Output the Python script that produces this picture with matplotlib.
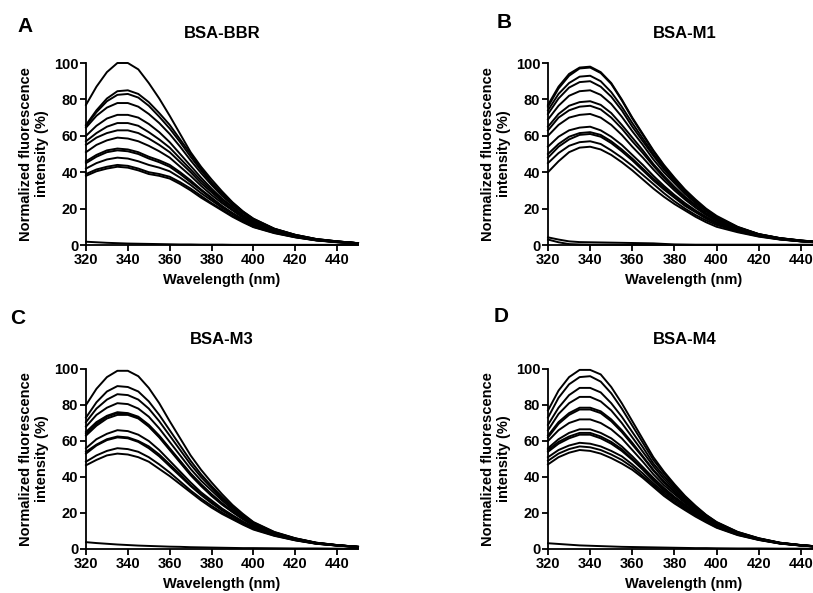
import matplotlib
matplotlib.use("Agg")
import matplotlib.pyplot as plt

plt.rcParams["font.family"] = ["Liberation Sans", "DejaVu Sans"]
plt.rcParams["font.weight"] = "bold"

# Emission wavelengths (nm)
wavelength = [320, 325, 330, 335, 340, 345, 350, 355, 360, 365, 370, 375,
              380, 385, 390, 395, 400, 410, 420, 430, 440, 450]

# ---- BSA-BBR: titration spectra (normalized %), plus blank ----
bbr_spectra = [
    [77, 87, 95, 100, 100, 96.5, 89, 80.5, 71, 61, 51, 43, 36, 29.5, 23.5, 18.5, 14.5, 9, 5.6, 3.3, 2.0, 1.0],
    [66, 74, 80.5, 84.5, 85, 83, 78.5, 72.5, 66, 58, 50, 42, 34.5, 28.5, 23.2, 18.3, 14.3, 8.9, 5.6, 3.3, 2.0, 1.0],
    [65.5, 73, 79, 82.5, 83, 81, 76.5, 70.5, 64, 56.5, 48.5, 41, 34, 28, 23, 18, 14, 8.8, 5.5, 3.2, 2.0, 1.0],
    [64.5, 71, 75.5, 78, 78, 76, 72, 67, 61, 54, 46.5, 39.5, 33, 27, 22, 17.5, 13.5, 8.5, 5.3, 3.1, 1.9, 1.0],
    [60, 65.5, 69.5, 71.5, 71.5, 70, 66.5, 62, 56.5, 50, 43.5, 37, 31, 25.5, 21, 16.5, 13, 8.2, 5.2, 3.0, 1.9, 1.0],
    [57, 61.5, 65, 67, 67, 65.5, 62, 58, 53.5, 47.5, 41.5, 35.5, 30, 25, 20.5, 16, 12.5, 8, 5.0, 3.0, 1.8, 1.0],
    [55, 59, 61.5, 63, 63, 61.5, 58.5, 55, 51, 45.5, 40, 34, 29, 24, 19.5, 15.5, 12, 7.8, 4.9, 2.9, 1.8, 1.0],
    [51, 55, 57.5, 59, 58.5, 57, 54.5, 51.5, 48, 43, 38, 32.5, 27.5, 23, 19, 15, 11.7, 7.5, 4.8, 2.8, 1.7, 0.9],
    [46, 49.5, 52, 53, 52.5, 51, 48.5, 46.5, 44, 40, 35.5, 30.5, 26, 21.5, 17.5, 14, 11, 7.2, 4.6, 2.7, 1.7, 0.9],
    [45, 48.5, 51, 52, 51.5, 50, 47.5, 45.5, 43, 39, 34.5, 30, 25.5, 21, 17.5, 14, 11, 7.1, 4.5, 2.7, 1.6, 0.9],
    [42, 45, 47, 48, 47.5, 46, 44, 42.5, 40.5, 37, 33, 28.5, 24.5, 20.5, 17, 13.5, 10.5, 6.9, 4.4, 2.6, 1.6, 0.9],
    [39, 41.5, 43, 44, 43.5, 42, 40, 39, 37.5, 34.5, 31, 27, 23, 19.5, 16, 13, 10, 6.7, 4.3, 2.6, 1.6, 0.9],
    [38, 40.5, 42, 43, 42.5, 41, 39, 38, 36.5, 33.5, 30, 26, 22.5, 19, 15.5, 12.5, 9.8, 6.5, 4.2, 2.5, 1.5, 0.8],
]
bbr_blanks = [
    [1.8, 1.5, 1.2, 1.0, 0.8, 0.7, 0.6, 0.5, 0.4, 0.3, 0.3, 0.2, 0.2, 0.2, 0.1, 0.1, 0.1, 0.1, 0.1, 0.1, 0.1, 0.1],
]

# ---- BSA-M1 ----
m1_spectra = [
    [77, 87, 94, 97.5, 98, 95, 89, 80, 70, 61, 52, 44, 37, 30.5, 25, 20, 16, 10, 6, 3.8, 2.5, 1.5],
    [76, 86, 93, 97, 97.5, 94.5, 88.5, 79.5, 69.5, 60.5, 51.5, 43.5, 36.5, 30, 24.5, 19.5, 15.5, 9.8, 6, 3.8, 2.5, 1.5],
    [74, 83, 89, 92.5, 93, 90, 84, 76, 67, 58.5, 50, 42.5, 35.5, 29.5, 24, 19, 15, 9.6, 5.9, 3.7, 2.4, 1.5],
    [72, 80.5, 86.5, 89.5, 90, 87, 81.5, 74, 65, 57, 49, 41.5, 35, 29, 23.5, 18.8, 14.8, 9.5, 5.8, 3.7, 2.4, 1.4],
    [69, 76.5, 82, 84.5, 85, 82.5, 77.5, 70.5, 62.5, 55, 47, 40, 34, 28, 23, 18.5, 14.5, 9.3, 5.7, 3.6, 2.3, 1.4],
    [65, 72, 76.5, 78.5, 79, 77, 72.5, 66, 59, 52, 44.5, 38, 32, 26.5, 22, 17.5, 14, 9, 5.6, 3.5, 2.3, 1.4],
    [63, 70, 74, 76, 76.5, 74.5, 70, 64, 57, 50.5, 43.5, 37, 31, 26, 21.5, 17, 13.7, 8.8, 5.5, 3.5, 2.2, 1.4],
    [60, 66, 70, 71.5, 72, 70, 66, 60.5, 54, 48, 41.5, 35.5, 30, 25, 20.5, 16.5, 13.3, 8.6, 5.4, 3.4, 2.2, 1.3],
    [54, 59.5, 63, 64.5, 65, 63, 59.5, 55, 49.5, 44, 38, 32.5, 27.5, 23, 19, 15.5, 12.5, 8.2, 5.2, 3.3, 2.1, 1.3],
    [50, 55.5, 59.5, 61.5, 62, 60.5, 57, 52.5, 47.5, 42, 36.5, 31.5, 26.5, 22, 18.5, 15, 12, 8, 5.1, 3.2, 2.1, 1.3],
    [48, 54, 58, 60.5, 61, 59.5, 56, 51.5, 46.5, 41, 35.5, 30.5, 26, 21.5, 18, 14.5, 11.7, 7.8, 5, 3.2, 2.0, 1.3],
    [45, 50.5, 54.5, 56.5, 57, 55.5, 52, 48, 43.5, 38.5, 33.5, 28.5, 24, 20, 16.5, 13.5, 11, 7.4, 4.8, 3.1, 2.0, 1.2],
    [40, 46, 51, 53.5, 54, 52.5, 49.5, 45.5, 41, 36, 31, 26.5, 22.5, 19, 15.5, 12.5, 10, 7, 4.6, 3.0, 2.0, 1.2],
]
m1_blanks = [
    [4.2, 3.0, 2.0, 1.6, 1.5, 1.4, 1.3, 1.2, 1.1, 1.0, 0.9, 0.6, 0.3, 0.2, 0.1, 0.1, 0.1, 0.1, 0.1, 0.1, 0.1, 0.1],
    [3.0, 1.5, 0.5, 0.3, 0.2, 0.2, 0.2, 0.1, 0.1, 0.1, 0.1, 0.1, 0.1, 0.1, 0.1, 0.1, 0.1, 0.1, 0.1, 0.1, 0.1, 0.1],
]

# ---- BSA-M3 ----
m3_spectra = [
    [80, 89, 95.5, 99, 99, 96, 89.5, 81, 71, 61.5, 52, 44, 37, 30.5, 24.5, 19.5, 15, 9.5, 6, 3.5, 2.2, 1.2],
    [73, 81.5, 87.5, 90.5, 90, 87.5, 82, 74.5, 66, 57.5, 49, 41.5, 35, 29, 23.5, 19, 14.7, 9.3, 5.9, 3.5, 2.2, 1.2],
    [70.5, 78, 83, 86, 85.5, 83, 78, 71, 63, 55, 47, 40, 34, 28, 23, 18.5, 14.3, 9.1, 5.8, 3.4, 2.1, 1.2],
    [68, 74.5, 78.5, 81, 80.5, 78, 73.5, 67, 59.5, 52, 44.5, 38, 32.5, 27, 22, 17.8, 14, 8.9, 5.7, 3.4, 2.1, 1.2],
    [65, 70.5, 74, 76, 75.5, 73.5, 69, 63, 56, 49, 42, 36, 30.5, 25.5, 21, 17, 13.5, 8.7, 5.6, 3.3, 2.1, 1.2],
    [64, 69.5, 73.5, 75.5, 75, 73, 68.5, 62.5, 55.5, 48.5, 41.5, 35.5, 30, 25, 20.8, 16.8, 13.3, 8.6, 5.5, 3.3, 2.1, 1.2],
    [63, 68.5, 72.5, 74.5, 74.5, 72.5, 68, 62, 55, 48, 41, 35, 29.5, 24.7, 20.5, 16.5, 13.1, 8.5, 5.4, 3.2, 2.0, 1.2],
    [56, 61, 64, 66, 65.5, 63.5, 60, 55, 49, 43, 37, 31.5, 27, 22.5, 18.8, 15.3, 12.3, 8.1, 5.2, 3.1, 2.0, 1.1],
    [54, 58, 61, 62.5, 62, 60, 57, 52.5, 47, 41.5, 35.5, 30.5, 26, 21.8, 18.2, 14.8, 12, 7.9, 5.1, 3.1, 2.0, 1.1],
    [53, 57.5, 60.5, 62, 61.5, 59.5, 56, 51.5, 46, 40.5, 35, 30, 25.5, 21.5, 18, 14.6, 11.8, 7.8, 5.0, 3.0, 1.9, 1.1],
    [48.5, 52, 54.5, 56, 55.5, 54, 51, 47, 42.5, 37.5, 32.5, 28, 24, 20.3, 17, 14, 11.2, 7.5, 4.9, 3.0, 1.9, 1.1],
    [46.5, 49.5, 52, 53, 52.5, 51, 48.5, 44.5, 40.5, 36, 31.5, 27, 23, 19.5, 16.5, 13.5, 10.8, 7.3, 4.8, 2.9, 1.9, 1.1],
]
m3_blanks = [
    [3.8, 3.3, 2.9, 2.5, 2.2, 1.9, 1.7, 1.5, 1.3, 1.2, 1.0, 0.9, 0.8, 0.7, 0.6, 0.5, 0.5, 0.4, 0.3, 0.3, 0.2, 0.2],
]

# ---- BSA-M4 ----
m4_spectra = [
    [77, 88, 95.5, 99.5, 99.5, 97, 90, 81, 71, 61, 51, 43, 36, 29.5, 24, 19, 15, 9.5, 6, 3.5, 2.2, 1.2],
    [73, 84, 91.5, 95.5, 96, 93, 86.5, 78, 68.5, 59, 49.5, 42, 35, 29, 23.5, 18.8, 14.8, 9.4, 5.9, 3.5, 2.2, 1.2],
    [69, 78.5, 85.5, 89.5, 89.5, 87, 81, 73.5, 65, 56.5, 47.5, 40.5, 34, 28.3, 23, 18.5, 14.5, 9.2, 5.8, 3.4, 2.1, 1.2],
    [66, 75, 81, 84.5, 84.5, 82, 77, 70, 62, 54, 46, 39, 33, 27.5, 22.5, 18, 14.2, 9.0, 5.7, 3.4, 2.1, 1.2],
    [63, 70.5, 75.5, 78.5, 78.5, 76.5, 72, 66, 59, 51.5, 44, 37.5, 32, 26.8, 22, 17.7, 14, 8.9, 5.6, 3.3, 2.1, 1.2],
    [62, 69.5, 74.5, 77.5, 77.5, 75.5, 71, 65, 58, 51, 43.5, 37, 31.5, 26.4, 21.7, 17.5, 13.8, 8.8, 5.6, 3.3, 2.1, 1.2],
    [60, 66, 70, 72, 72, 70, 66.5, 61.5, 55, 48.5, 41.5, 35.5, 30.5, 25.6, 21.2, 17.2, 13.5, 8.7, 5.5, 3.3, 2.0, 1.1],
    [56, 61, 64.5, 66.5, 66.5, 64.5, 61.5, 57, 51.5, 45.5, 39.5, 34, 29, 24.6, 20.5, 16.7, 13.2, 8.5, 5.4, 3.2, 2.0, 1.1],
    [55, 59.5, 62.5, 64.5, 64.5, 62.5, 59.5, 55.5, 50, 44.5, 38.5, 33, 28.5, 24.2, 20.2, 16.5, 13, 8.4, 5.4, 3.2, 2.0, 1.1],
    [54, 58.5, 61.5, 63.5, 63.5, 61.5, 58.5, 54.5, 49.5, 44, 38, 32.5, 28, 23.8, 19.8, 16.2, 12.8, 8.3, 5.3, 3.2, 2.0, 1.1],
    [51, 55, 57.5, 59, 58.5, 57, 54.5, 51.5, 47, 42, 36.5, 31.5, 27, 23, 19.2, 15.7, 12.5, 8.1, 5.2, 3.1, 2.0, 1.1],
    [49, 53, 55.5, 57, 56.5, 55, 52.5, 49.5, 45.5, 40.5, 35.5, 30.5, 26, 22.2, 18.6, 15.2, 12.1, 7.9, 5.1, 3.1, 1.9, 1.1],
    [47, 51, 53.5, 55, 54.5, 53, 50.5, 47.5, 44, 39.5, 34.5, 29.5, 25.3, 21.6, 18, 14.8, 11.8, 7.7, 5.0, 3.0, 1.9, 1.1],
]
m4_blanks = [
    [3.2, 2.8, 2.4, 2.0, 1.8, 1.6, 1.4, 1.2, 1.1, 1.0, 0.9, 0.8, 0.7, 0.6, 0.5, 0.5, 0.4, 0.3, 0.3, 0.2, 0.2, 0.2],
]

panel_letters = ["A", "B", "C", "D"]
panel_titles = ["BSA-BBR", "BSA-M1", "BSA-M3", "BSA-M4"]
panel_spectra = [bbr_spectra, m1_spectra, m3_spectra, m4_spectra]
panel_blanks = [bbr_blanks, m1_blanks, m3_blanks, m4_blanks]

x_ticks = [320, 340, 360, 380, 400, 420, 440]
y_ticks = [0, 20, 40, 60, 80, 100]

W, H = 813, 593
fig = plt.figure(figsize=(W / 100, H / 100), dpi=100)

# axes boxes in pixels: (left, top, width, height), top measured from the top edge
boxes = [
    (86, 63, 272, 182),
    (548, 63, 274, 182),
    (86, 369, 272, 180),
    (548, 369, 274, 180),
]
letter_pos = [(25, 26), (504, 23), (18, 319), (501, 317)]

for i, ax_box in enumerate(boxes):
    l, t, w, h = ax_box
    ax = fig.add_axes([l / W, 1 - (t + h) / H, w / W, h / H])
    for curve in panel_spectra[i]:
        ax.plot(wavelength, curve, color="black", lw=1.4, clip_on=False,
                solid_joinstyle="round")
    for curve in panel_blanks[i]:
        ax.plot(wavelength, curve, color="black", lw=1.4, clip_on=False)
    ax.set_xlim(320, 450)
    ax.set_ylim(0, 100)
    ax.set_xticks(x_ticks)
    ax.set_yticks(y_ticks)
    for side in ("top", "right"):
        ax.spines[side].set_visible(False)
    for side in ("left", "bottom"):
        ax.spines[side].set_linewidth(1.3)
    ax.tick_params(direction="out", length=4, width=1.3, labelsize=10.5,
                   pad=1.5)
    for lab in ax.get_xticklabels() + ax.get_yticklabels():
        lab.set_fontweight("bold")

    cx = l + w / 2 if i % 2 == 0 else l + 137
    fig.text(cx / W, 1 - (t - 30) / H, panel_titles[i], ha="center",
             va="center", fontsize=12, fontweight="bold")
    fig.text((l + 136) / W, 1 - (t + h + 35) / H, "Wavelength (nm)",
             ha="center", va="center", fontsize=10.5, fontweight="bold")
    fig.text((l - 52) / W, 1 - (t + h / 2) / H,
             "Normalized fluorescence\nintensity (%)", rotation=90,
             ha="center", va="center", multialignment="center",
             fontsize=10.5, fontweight="bold", linespacing=1.15)
    lx, ly = letter_pos[i]
    fig.text(lx / W, 1 - ly / H, panel_letters[i], ha="center", va="center",
             fontsize=15, fontweight="bold")

fig.savefig("out.png", dpi=100)
